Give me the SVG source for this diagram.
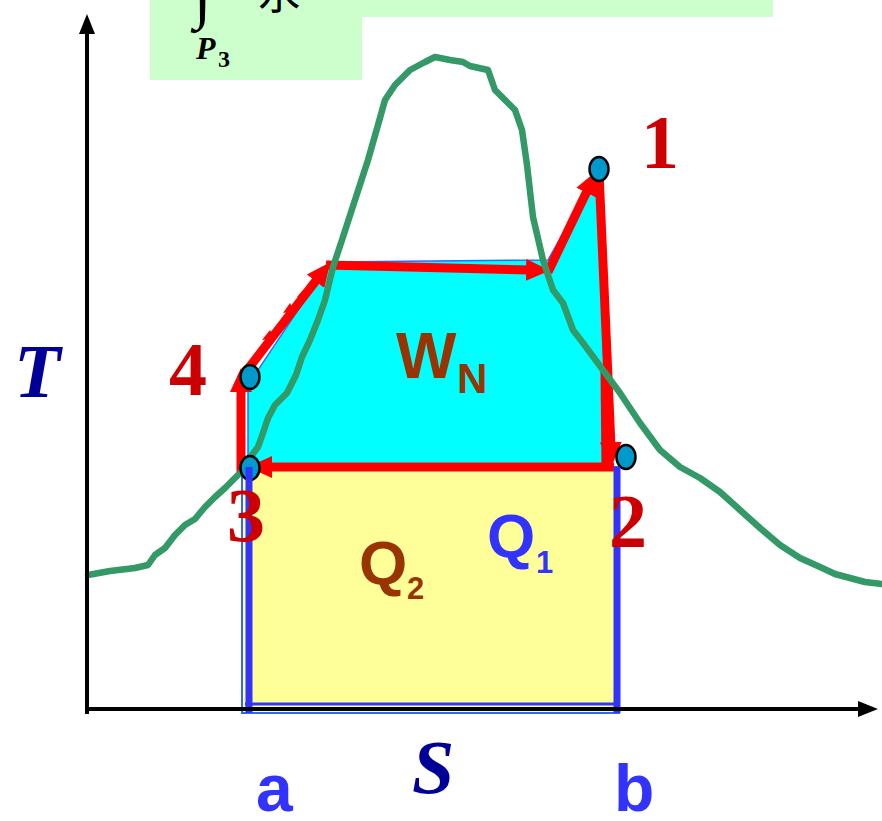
<svg xmlns="http://www.w3.org/2000/svg" width="882" height="821" viewBox="0 0 882 821">
<style>
.red{fill:none;stroke:#FF0000;stroke-width:9;stroke-linecap:butt}
.pt{fill:#0099CC;stroke:#000;stroke-width:2.5}
.num{font-family:"Liberation Serif","Times New Roman",serif;font-weight:bold;font-size:76px;fill:#CC0000;text-anchor:middle}
.axl{font-family:"Liberation Serif","Times New Roman",serif;font-weight:bold;font-style:italic;font-size:76px;fill:#000099}
.sans{font-family:"Liberation Sans",Arial,sans-serif;font-weight:bold}
</style>
<defs>
<marker id="ah" markerUnits="userSpaceOnUse" markerWidth="24" markerHeight="24" refX="4" refY="11" orient="auto" viewBox="0 0 24 22">
<path d="M0,0 L24,11 L0,22 z" fill="#FF0000"/>
</marker>
<marker id="axh" markerUnits="userSpaceOnUse" markerWidth="20" markerHeight="20" refX="4" refY="8" orient="auto" viewBox="0 0 20 16">
<path d="M0,0 L20,8 L0,16 z" fill="#000"/>
</marker>
</defs>

<g id="header">
<rect x="150" y="-1" width="623" height="18" fill="#CCFFCC"/>
<rect x="150" y="-1" width="212" height="81" fill="#CCFFCC"/>
<text x="194" y="16" font-family="Liberation Serif,serif" font-weight="bold" font-size="64">∫</text>
<text x="258" y="9" font-family="Liberation Serif,'Noto Sans CJK SC',serif" font-size="42">水</text>
<text x="196" y="59" font-family="Liberation Serif,serif" font-weight="bold" font-style="italic" font-size="32">P</text>
<text x="218" y="67" font-family="Liberation Serif,serif" font-weight="bold" font-size="24">3</text>
</g>

<g id="area-q">
<rect x="242" y="467" width="377" height="246" fill="#FFFF99" stroke="#3366FF" stroke-width="2"/>
<line x1="245" y1="704" x2="617" y2="704" stroke="#3333FF" stroke-width="3"/>
</g>

<g id="area-wn">
<polygon points="248,467 248,385 330,262 548,260 598,172 607,467" fill="#00FFFF" stroke="#3366FF" stroke-width="1.5"/>
</g>

<g id="connectors">
<line class="red" x1="241" y1="472" x2="241" y2="388" marker-end="url(#ah)"/>
<line class="red" x1="241" y1="378" x2="318" y2="278" marker-end="url(#ah)"/>
<polygon points="262,340 270,330 274,338" fill="#FF0000"/>
<polygon points="283,313 290,303 294,311" fill="#FF0000"/>
<polygon points="297,297 303,290 306,298" fill="#FF0000"/>
<line class="red" x1="326" y1="265" x2="530" y2="270" marker-end="url(#ah)"/>
<line class="red" x1="548" y1="272" x2="588" y2="189" marker-end="url(#ah)"/>
<line class="red" x1="599" y1="172" x2="611" y2="446" marker-end="url(#ah)"/>
<line class="red" x1="605" y1="372" x2="606" y2="467" stroke-width="8"/>
<line class="red" x1="614" y1="467" x2="268" y2="467" stroke-width="11" marker-end="url(#ah)"/>
</g>

<g id="saturation-curve">
<polyline fill="none" stroke="#339966" stroke-width="6.5" stroke-linejoin="round" stroke-linecap="round" points="88,575 110,571 135,568 148,565 155,555 165,548 175,535 185,525 195,519 205,507 215,497 225,488 235,478 245,468 252,455 258,447 263,433 268,418 275,405 287,393 296,375 302,357 310,340 318,320 325,300 333,267 342,240 355,200 368,160 378,125 385,100 395,85 410,70 425,62 435,57 450,60 463,62 470,66 488,70 495,90 505,100 515,110 522,130 527,165 533,217 543,260 553,290 563,303 573,330 583,343 603,370 620,393 640,423 660,450 680,467 700,478 720,492 740,510 760,528 780,545 800,558 820,567 835,574 850,578 865,582 882,584"/>
</g>

<g id="p1"><ellipse class="pt" cx="599" cy="169" rx="9.5" ry="12"/></g>
<g id="p2"><ellipse class="pt" cx="626" cy="457" rx="9.5" ry="12"/></g>
<g id="p4"><ellipse class="pt" cx="250" cy="377" rx="9.5" ry="12"/></g>
<g id="p3"><ellipse class="pt" cx="250" cy="468" rx="9.5" ry="12"/></g>

<g id="bounds">
<line x1="249" y1="467" x2="249" y2="713" stroke="#3333FF" stroke-width="7"/>
<line x1="617" y1="467" x2="617" y2="713" stroke="#3333FF" stroke-width="7"/>
</g>

<g id="axes">
<line x1="87" y1="714" x2="87" y2="30" stroke="#000" stroke-width="4" marker-end="url(#axh)"/>
<line x1="85" y1="709" x2="862" y2="709" stroke="#000" stroke-width="4" marker-end="url(#axh)"/>
</g>

<g id="labels">
<text class="num" x="660" y="168">1</text>
<text class="num" x="628" y="547">2</text>
<text class="num" x="246" y="541">3</text>
<text class="num" x="188" y="395">4</text>
<text class="axl" x="14" y="397">T</text>
<text class="axl" x="412" y="793">S</text>
<text class="sans" x="256" y="811" font-size="66" fill="#3333FF">a</text>
<text class="sans" x="614" y="811" font-size="66" fill="#3333FF">b</text>
<text class="sans" x="359" y="584" font-size="62" fill="#993300">Q</text>
<text class="sans" x="407" y="599" font-size="31" fill="#993300">2</text>
<text class="sans" x="487" y="557" font-size="62" fill="#3333FF">Q</text>
<text class="sans" x="536" y="573" font-size="31" fill="#3333FF">1</text>
<text class="sans" x="396" y="378" font-size="64" fill="#993300">W</text>
<text class="sans" x="457" y="393" font-size="42" fill="#993300">N</text>
</g>
</svg>
